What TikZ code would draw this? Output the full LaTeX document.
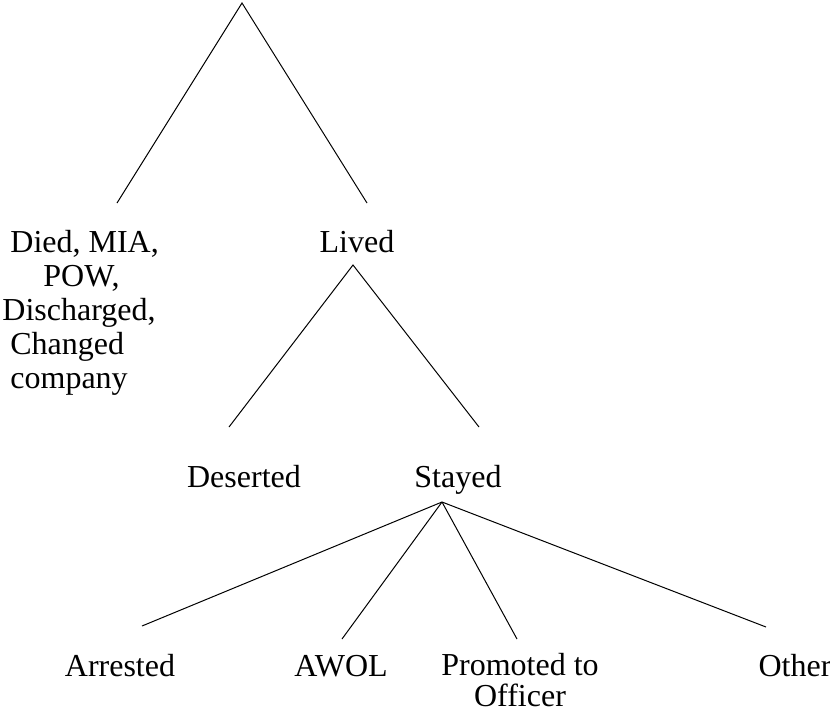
\documentclass[tikz,border=0pt]{standalone}
\usepackage{fontspec}
\setmainfont{Liberation Serif}
\usetikzlibrary{positioning}

\begin{document}
\begin{tikzpicture}[x=0.5pt, y=-0.5pt,
    lbl/.style={inner sep=0pt, font=\fontsize{16}{17}\selectfont},
    branch/.style={line width=0.5pt}]
  \useasboundingbox (0,0) rectangle (830,713);
  % outcome labels
  \node[lbl, anchor=north west, align=left] (died) at (2,230)
    {\hspace*{4pt}Died, MIA,\\\hspace*{20.5pt}POW,\\Discharged,\\\hspace*{4pt}Changed\\\hspace*{4pt}company};
  \node[lbl, anchor=base] (lived) at (357,252) {Lived};
  \node[lbl, anchor=base] (deserted) at (244,487) {Deserted};
  \node[lbl, anchor=base] (stayed) at (458,487) {Stayed};
  \node[lbl, anchor=base] (arrested) at (120,676) {Arrested};
  \node[lbl, anchor=base] (awol) at (341,676) {AWOL};
  \node[lbl, anchor=north, align=center, font=\fontsize{16}{15.5}\selectfont] (promoted) at (520,653) {Promoted to\\Officer};
  \node[lbl, anchor=base] (other) at (795,676) {Other};
  % branch points and ends
  \coordinate (root) at (242,3);
  \coordinate (died-end) at (117,203);
  \coordinate (lived-end) at (367,203);
  \coordinate (lived-tip) at (353,265);
  \coordinate (deserted-end) at (229,427);
  \coordinate (stayed-end) at (479,427);
  \coordinate (stayed-tip) at (442,502);
  \coordinate (arrested-end) at (142,626);
  \coordinate (awol-end) at (342,639);
  \coordinate (promoted-end) at (517,639);
  \coordinate (other-end) at (766,627);
  % branches
  \draw[branch] (died-end) -- (root) -- (lived-end);
  \draw[branch] (deserted-end) -- (lived-tip) -- (stayed-end);
  \foreach \k in {arrested,awol,promoted,other} {
    \draw[branch] (stayed-tip) -- (\k-end);
  }
\end{tikzpicture}
\end{document}
